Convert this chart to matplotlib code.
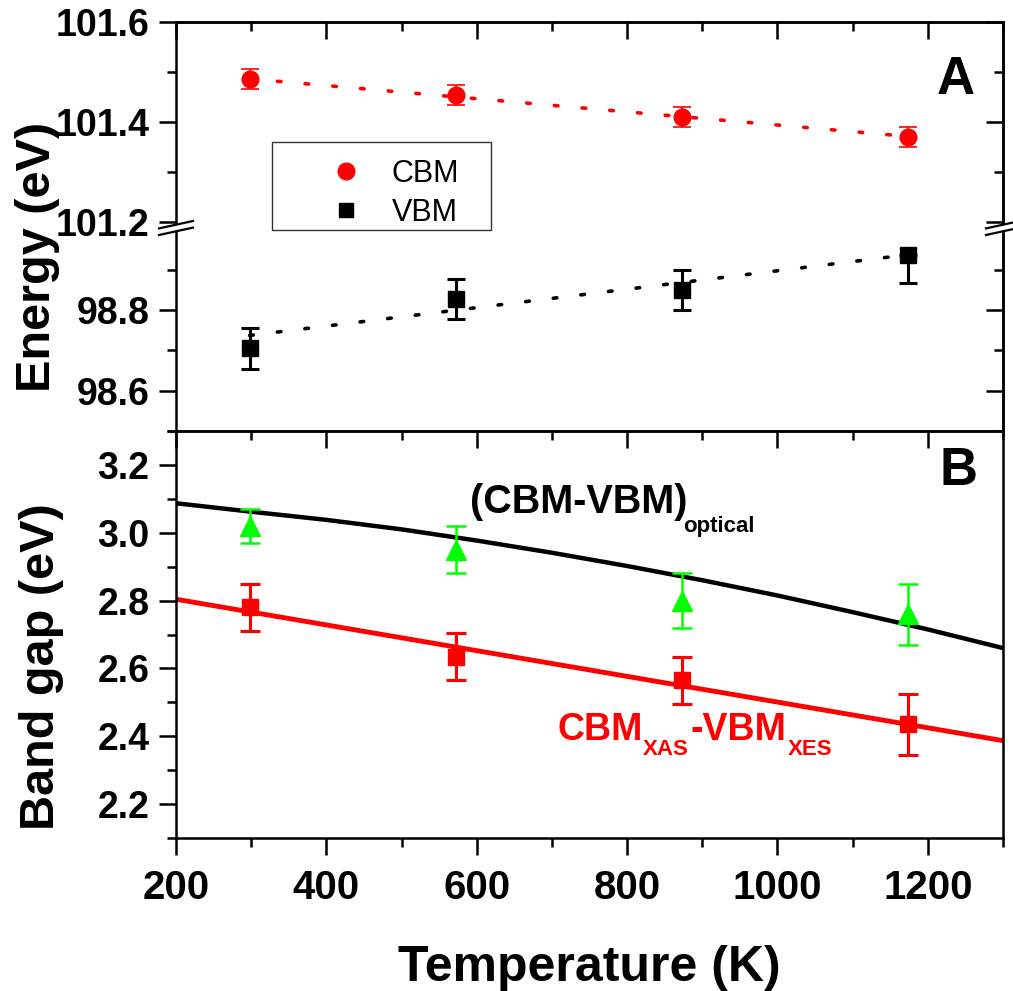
import numpy as np
import matplotlib.pyplot as plt
from matplotlib.lines import Line2D
from matplotlib.patches import Rectangle, Polygon
from matplotlib.ticker import MultipleLocator, FixedLocator

plt.rcParams['font.family'] = 'Liberation Sans'
plt.rcParams['font.weight'] = 'bold'

# ---------------- data ----------------
T = [298, 573, 873, 1173]
cbm = [101.487, 101.455, 101.410, 101.371]
cbm_err = [0.02, 0.02, 0.02, 0.02]
vbm = [98.705, 98.827, 98.850, 98.936]
vbm_err_lo = [0.05, 0.05, 0.05, 0.07]
vbm_err_hi = [0.05, 0.05, 0.05, 0.0]   # upper bar of last point runs off the scale
fit_T = [298, 1173]
cbm_fit = [101.487, 101.372]
vbm_fit = [98.737, 98.937]

gap_opt = [3.02, 2.95, 2.80, 2.76]
gap_opt_err = [0.05, 0.07, 0.08, 0.09]
gap_xas = [2.78, 2.635, 2.565, 2.435]
gap_xas_err = [0.07, 0.07, 0.07, 0.09]
curve_T = [200, 300, 400, 500, 600, 700, 800, 900, 1000, 1100, 1200, 1300]
curve_opt = [3.087, 3.062, 3.038, 3.010, 2.977, 2.941, 2.902, 2.860, 2.815, 2.766, 2.715, 2.660]
line_T = [200, 1300]
line_xas = [2.804, 2.387]

# ---------------- layout (pixels) ----------------
W, H = 1013, 991
def fx(px): return px / W
def fy(py): return 1 - py / H

xl, xr = 176, 1003
fig = plt.figure(figsize=(W / 100, H / 100), dpi=100)
axA1 = fig.add_axes([fx(xl), fy(228), fx(xr) - fx(xl), (228 - 22.3) / H])
axA2 = fig.add_axes([fx(xl), fy(431), fx(xr) - fx(xl), (431 - 228) / H])
axB = fig.add_axes([fx(xl), fy(838), fx(xr) - fx(xl), (838 - 431) / H])

slw = 1.8
for ax in (axA1, axA2, axB):
    ax.set_xlim(200, 1300)
    for s in ax.spines.values():
        s.set_linewidth(slw)
    ax.tick_params(axis='both', which='major', length=12, width=slw, direction='out')
    ax.tick_params(axis='both', which='minor', length=6.5, width=slw, direction='out')
    ax.tick_params(axis='y', labelsize=27, pad=7)
    ax.tick_params(axis='x', labelsize=29, pad=10)
    ax.xaxis.set_major_locator(MultipleLocator(200))
    ax.xaxis.set_minor_locator(MultipleLocator(100))

axA1.set_ylim(101.189, 101.6)
axA2.set_ylim(98.5, 99.0035)
axB.set_ylim(2.1, 3.3)

axA1.yaxis.set_major_locator(FixedLocator([101.2, 101.4, 101.6]))
axA1.yaxis.set_minor_locator(FixedLocator([101.3, 101.5]))
axA2.yaxis.set_major_locator(FixedLocator([98.6, 98.8]))
axA2.yaxis.set_minor_locator(FixedLocator([98.5, 98.7, 98.9]))
axB.yaxis.set_major_locator(MultipleLocator(0.2))
axB.yaxis.set_minor_locator(MultipleLocator(0.1))
for ax in (axA1, axA2, axB):
    ax.yaxis.set_major_formatter(lambda v, p: f'{v:.1f}')

axA1.spines['bottom'].set_visible(False)
axA2.spines['top'].set_visible(False)
axA2.spines['bottom'].set_visible(False)
for ax in (axA1, axA2):
    ax.tick_params(axis='x', which='both', bottom=False, labelbottom=False)

# inward ticks on top / right
def inner_ticks(ax, top=False, right=False):
    if top:
        sx = ax.secondary_xaxis('top')
        sx.xaxis.set_major_locator(MultipleLocator(200))
        sx.xaxis.set_minor_locator(MultipleLocator(100))
        sx.tick_params(axis='x', which='major', direction='in', length=12, width=slw, labeltop=False)
        sx.tick_params(axis='x', which='minor', direction='in', length=6.5, width=slw)
        for s in sx.spines.values():
            s.set_linewidth(slw)
    if right:
        sy = ax.secondary_yaxis('right')
        sy.yaxis.set_major_locator(ax.yaxis.get_major_locator())
        sy.yaxis.set_minor_locator(ax.yaxis.get_minor_locator())
        sy.tick_params(axis='y', which='major', direction='in', length=12, width=slw, labelright=False)
        sy.tick_params(axis='y', which='minor', direction='in', length=6.5, width=slw)
        for s in sy.spines.values():
            s.set_linewidth(slw)

inner_ticks(axA1, top=True, right=True)
inner_ticks(axA2, right=True)
inner_ticks(axB, top=True)

# ---------------- panel A ----------------
dots = (0, (1, 6.7))
axA1.plot(fit_T, cbm_fit, color='red', lw=2.6, ls=dots, dash_capstyle='round')
axA1.errorbar(T, cbm, yerr=cbm_err, fmt='o', color='red', ms=12,
              capsize=6.5, elinewidth=1.2, capthick=1.2)
axA2.plot(fit_T, vbm_fit, color='black', lw=2.6, ls=dots, dash_capstyle='round')
axA2.errorbar(T, vbm, yerr=[vbm_err_lo, vbm_err_hi], fmt='none', ecolor='black',
              capsize=6.5, elinewidth=2.2, capthick=2.2)
axA2.plot(T, vbm, 's', color='black', ms=11, zorder=3)

# ---------------- panel B ----------------
axB.plot(curve_T, curve_opt, color='black', lw=3.2)
axB.plot(line_T, line_xas, color='red', lw=3.5)
axB.errorbar(T, gap_opt, yerr=gap_opt_err, fmt='^', color='#00ff00', ms=15,
             capsize=7, elinewidth=1.8, capthick=1.8)
axB.errorbar(T, gap_xas, yerr=gap_xas_err, fmt='s', color='red', ms=12,
             capsize=7, elinewidth=2.2, capthick=2.2)
axB.set_xlabel('Temperature (K)', fontsize=36, fontweight='bold', labelpad=28)

# axis labels
fig.text(fx(38), fy(257), 'Energy (eV)', rotation=90, fontsize=35, ha='center', va='center')
fig.text(fx(42), fy(667), 'Band gap (eV)', rotation=90, fontsize=35, ha='center', va='center')

# panel letters
fig.text(fx(956), fy(80), 'A', fontsize=38, ha='center', va='center')
fig.text(fx(958), fy(471), 'B', fontsize=38, ha='center', va='center')

# curve labels
fig.text(fx(470), fy(513), '(CBM-VBM)', fontsize=28.5, ha='left', va='baseline')
fig.text(fx(683), fy(532), 'optical', fontsize=16, ha='left', va='baseline')
fig.text(fx(557), fy(740), 'CBM', fontsize=27, color='red', ha='left', va='baseline')
fig.text(fx(643), fy(755), 'XAS', fontsize=16, color='red', ha='left', va='baseline')
fig.text(fx(690), fy(740), '-VBM', fontsize=27, color='red', ha='left', va='baseline')
fig.text(fx(788), fy(755), 'XES', fontsize=16, color='red', ha='left', va='baseline')

# legend
box = Rectangle((fx(272), fy(230)), fx(491) - fx(272), (230 - 142) / H,
                transform=fig.transFigure, facecolor='white', edgecolor='#333333',
                lw=1, zorder=4)
fig.add_artist(box)
handles = [Line2D([], [], marker='o', color='red', ls='none', ms=12),
           Line2D([], [], marker='s', color='black', ls='none', ms=10.5)]
fig.legend(handles, ['CBM', 'VBM'], loc='upper left', bbox_to_anchor=(fx(315), fy(159)),
           frameon=False, borderpad=0, borderaxespad=0, handlelength=2,
           handletextpad=0.5, labelspacing=0.3,
           prop={'family': 'Liberation Sans', 'weight': 'normal', 'size': 22})

# axis break marks
for xc in (xl, xr):
    poly = Polygon([(fx(xc - 17), fy(228 + 0.4)), (fx(xc + 17), fy(228 - 7.0)),
                    (fx(xc + 17), fy(228 - 0.4)), (fx(xc - 17), fy(228 + 7.0))],
                   closed=True, transform=fig.transFigure, facecolor='white',
                   edgecolor='none', zorder=6)
    fig.add_artist(poly)
    for dy in (-3.3, 3.3):
        fig.add_artist(Line2D([fx(xc - 17), fx(xc + 17)],
                              [fy(228 + 3.7 + dy), fy(228 - 3.7 + dy)],
                              transform=fig.transFigure, color='black', lw=1.6, zorder=7))

fig.savefig('out.png', dpi=100)
